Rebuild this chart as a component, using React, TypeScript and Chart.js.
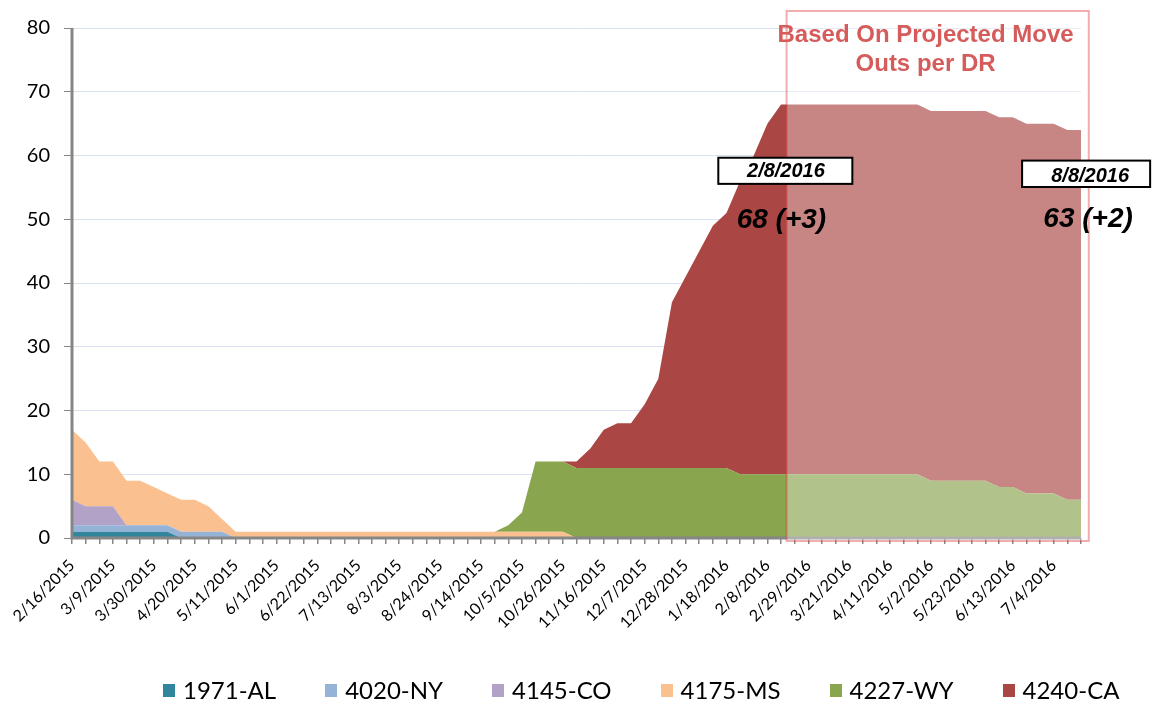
import React, { useEffect, useRef } from "react";
import { Chart, registerables } from "chart.js";

Chart.register(...registerables);

const dates = [
  "2/16/2015", "2/23/2015", "3/2/2015", "3/9/2015", "3/16/2015", "3/23/2015", "3/30/2015", "4/6/2015",
  "4/13/2015", "4/20/2015", "4/27/2015", "5/4/2015", "5/11/2015", "5/18/2015", "5/25/2015", "6/1/2015",
  "6/8/2015", "6/15/2015", "6/22/2015", "6/29/2015", "7/6/2015", "7/13/2015", "7/20/2015", "7/27/2015",
  "8/3/2015", "8/10/2015", "8/17/2015", "8/24/2015", "8/31/2015", "9/7/2015", "9/14/2015", "9/21/2015",
  "9/28/2015", "10/5/2015", "10/12/2015", "10/19/2015", "10/26/2015", "11/2/2015", "11/9/2015", "11/16/2015",
  "11/23/2015", "11/30/2015", "12/7/2015", "12/14/2015", "12/21/2015", "12/28/2015", "1/4/2016", "1/11/2016",
  "1/18/2016", "1/25/2016", "2/1/2016", "2/8/2016", "2/15/2016", "2/22/2016", "2/29/2016", "3/7/2016",
  "3/14/2016", "3/21/2016", "3/28/2016", "4/4/2016", "4/11/2016", "4/18/2016", "4/25/2016", "5/2/2016",
  "5/9/2016", "5/16/2016", "5/23/2016", "5/30/2016", "6/6/2016", "6/13/2016", "6/20/2016", "6/27/2016",
  "7/4/2016", "7/11/2016", "7/18/2016",
];

const al1971 = [
  1, 1, 1, 1, 1, 1, 1, 1, 0, 0, 0, 0, 0, 0, 0,
  0, 0, 0, 0, 0, 0, 0, 0, 0, 0, 0, 0, 0, 0, 0,
  0, 0, 0, 0, 0, 0, 0, 0, 0, 0, 0, 0, 0, 0, 0,
  0, 0, 0, 0, 0, 0, 0, 0, 0, 0, 0, 0, 0, 0, 0,
  0, 0, 0, 0, 0, 0, 0, 0, 0, 0, 0, 0, 0, 0, 0,
];
const ny4020 = [
  1, 1, 1, 1, 1, 1, 1, 1, 1, 1, 1, 1, 0, 0, 0,
  0, 0, 0, 0, 0, 0, 0, 0, 0, 0, 0, 0, 0, 0, 0,
  0, 0, 0, 0, 0, 0, 0, 0, 0, 0, 0, 0, 0, 0, 0,
  0, 0, 0, 0, 0, 0, 0, 0, 0, 0, 0, 0, 0, 0, 0,
  0, 0, 0, 0, 0, 0, 0, 0, 0, 0, 0, 0, 0, 0, 0,
];
const co4145 = [
  4, 3, 3, 3, 0, 0, 0, 0, 0, 0, 0, 0, 0, 0, 0,
  0, 0, 0, 0, 0, 0, 0, 0, 0, 0, 0, 0, 0, 0, 0,
  0, 0, 0, 0, 0, 0, 0, 0, 0, 0, 0, 0, 0, 0, 0,
  0, 0, 0, 0, 0, 0, 0, 0, 0, 0, 0, 0, 0, 0, 0,
  0, 0, 0, 0, 0, 0, 0, 0, 0, 0, 0, 0, 0, 0, 0,
];
const ms4175 = [
  11, 10, 7, 7, 7, 7, 6, 5, 5, 5, 4, 2, 1, 1, 1,
  1, 1, 1, 1, 1, 1, 1, 1, 1, 1, 1, 1, 1, 1, 1,
  1, 1, 1, 1, 1, 1, 1, 0, 0, 0, 0, 0, 0, 0, 0,
  0, 0, 0, 0, 0, 0, 0, 0, 0, 0, 0, 0, 0, 0, 0,
  0, 0, 0, 0, 0, 0, 0, 0, 0, 0, 0, 0, 0, 0, 0,
];
const wy4227 = [
  0, 0, 0, 0, 0, 0, 0, 0, 0, 0, 0, 0, 0, 0, 0,
  0, 0, 0, 0, 0, 0, 0, 0, 0, 0, 0, 0, 0, 0, 0,
  0, 0, 1, 3, 11, 11, 11, 11, 11, 11, 11, 11, 11, 11, 11,
  11, 11, 11, 11, 10, 10, 10, 10, 10, 10, 10, 10, 10, 10, 10,
  10, 10, 10, 9, 9, 9, 9, 9, 8, 8, 7, 7, 7, 6, 6,
];
const ca4240 = [
  0, 0, 0, 0, 0, 0, 0, 0, 0, 0, 0, 0, 0, 0, 0,
  0, 0, 0, 0, 0, 0, 0, 0, 0, 0, 0, 0, 0, 0, 0,
  0, 0, 0, 0, 0, 0, 0, 1, 3, 6, 7, 7, 10, 14, 26,
  30, 34, 38, 40, 46, 50, 55, 58, 58, 58, 58, 58, 58, 58, 58,
  58, 58, 58, 58, 58, 58, 58, 58, 58, 58, 58, 58, 58, 58, 58,
];

const seriesNames = ["1971-AL", "4020-NY", "4145-CO", "4175-MS", "4227-WY", "4240-CA"];
const seriesValues = [al1971, ny4020, co4145, ms4175, wy4227, ca4240];
const seriesColors = ["#31859C", "#95B3D7", "#B3A2C7", "#FAC090", "#89A54E", "#AA4643"];

const yTicks = [0, 10, 20, 30, 40, 50, 60, 70, 80];

const projectionTitle = ["Based On Projected Move", "Outs per DR"];
const calloutDates = ["2/8/2016", "8/8/2016"];
const calloutValues = ["68 (+3)", "63 (+2)"];

const TICK_FONT = 'Lato, "Open Sans", sans-serif';
const ANNO_FONT = '"Liberation Sans", Arial, sans-serif';

const overlayPlugin = {
  id: "overlay",
  afterDatasetsDraw(chart: any) {
    const { ctx, chartArea, scales } = chart;
    const xs = scales.x;
    const ys = scales.y;
    const px = (v: number) => xs.getPixelForValue(v);
    const py = (v: number) => ys.getPixelForValue(v);
    ctx.save();

    // axis lines
    ctx.strokeStyle = "#868686";
    ctx.lineWidth = 3;
    ctx.beginPath();
    ctx.moveTo(chartArea.left, chartArea.top);
    ctx.lineTo(chartArea.left, chartArea.bottom + 1.5);
    ctx.moveTo(chartArea.left - 1.5, chartArea.bottom);
    ctx.lineTo(chartArea.right, chartArea.bottom);
    ctx.stroke();

    // projection box
    const bx0 = px(52.41), bx1 = px(74.57), by0 = py(82.67), by1 = py(-0.47);
    ctx.fillStyle = "rgba(255,255,255,0.34)";
    ctx.fillRect(bx0, by0, bx1 - bx0, by1 - by0);
    ctx.strokeStyle = "rgba(220,50,50,0.4)";
    ctx.lineWidth = 2;
    ctx.strokeRect(bx0, by0, bx1 - bx0, by1 - by0);

    ctx.fillStyle = "#D65B5B";
    ctx.font = `bold 24px ${ANNO_FONT}`;
    ctx.textAlign = "center";
    ctx.textBaseline = "alphabetic";
    ctx.fillText(projectionTitle[0], px(62.6), py(77.85));
    ctx.fillText(projectionTitle[1], px(62.6), py(73.3));

    // callouts
    const boxes = [
      { x0: 47.4, x1: 57.23, yt: 59.65, yb: 55.55, tx: 52.36, ty: 56.6, vx: 52.03, vy: 48.6 },
      { x0: 69.68, x1: 79.07, yt: 59.2, yb: 55.06, tx: 74.67, ty: 55.8, vx: 74.52, vy: 48.8 },
    ];
    boxes.forEach((b, i) => {
      const x0 = px(b.x0), x1 = px(b.x1), y0 = py(b.yt), y1 = py(b.yb);
      ctx.fillStyle = "#ffffff";
      ctx.fillRect(x0, y0, x1 - x0, y1 - y0);
      ctx.strokeStyle = "#000000";
      ctx.lineWidth = 2;
      ctx.strokeRect(x0, y0, x1 - x0, y1 - y0);
      ctx.fillStyle = "#000000";
      ctx.font = `italic bold 20px ${ANNO_FONT}`;
      ctx.fillText(calloutDates[i], px(b.tx), py(b.ty));
      ctx.font = `italic bold 28px ${ANNO_FONT}`;
      ctx.fillText(calloutValues[i], px(b.vx), py(b.vy));
    });
    ctx.restore();
  },
};

export default function App() {
  const ref = useRef<HTMLCanvasElement>(null);

  useEffect(() => {
    const chart = new Chart(ref.current as HTMLCanvasElement, {
      type: "line",
      data: {
        labels: dates,
        datasets: seriesValues.map((vals, i) => ({
          label: seriesNames[i],
          data: vals,
          backgroundColor: seriesColors[i],
          borderColor: "rgba(0,0,0,0)",
          borderWidth: 0,
          pointRadius: 0,
          tension: 0,
          fill: i === 0 ? "origin" : "-1",
        })),
      },
      options: {
        responsive: false,
        animation: false,
        layout: { padding: { top: 28, right: 71, left: 0, bottom: 0 } },
        plugins: { legend: { display: false }, tooltip: { enabled: false } },
        scales: {
          x: {
            offset: false,
            grid: {
              display: true,
              drawOnChartArea: false,
              drawTicks: true,
              tickLength: 6,
              tickColor: "#868686",
              lineWidth: 1.5,
              offset: false,
            },
            border: { display: false },
            ticks: {
              autoSkip: false,
              minRotation: 45,
              maxRotation: 45,
              padding: 12,
              color: "#000",
              font: { family: TICK_FONT, size: 16 },
              callback: (_v: any, idx: number) => (idx % 3 === 0 ? dates[idx] : ""),
            },
            afterFit: (scale: any) => {
              scale.height = 166;
            },
          },
          y: {
            stacked: true,
            min: 0,
            max: 80,
            afterBuildTicks: (scale: any) => {
              scale.ticks = yTicks.map((v) => ({ value: v }));
            },
            grid: {
              color: "#D9E1F2",
              lineWidth: 1,
              tickColor: "#868686",
              tickLength: 8,
            },
            border: { display: false },
            ticks: {
              padding: 14,
              color: "#000",
              font: { family: TICK_FONT, size: 20 },
            },
            afterFit: (scale: any) => {
              scale.width = 72;
            },
          },
        },
      },
      plugins: [overlayPlugin],
    });
    return () => chart.destroy();
  }, []);

  return (
    <div style={{ position: "fixed", left: 0, top: 0, width: 1152, height: 704, background: "#fff" }}>
      <canvas ref={ref} width={1152} height={704} style={{ position: "absolute", left: 0, top: 0 }} />
      <div
        style={{
          position: "absolute",
          left: 163,
          top: 676,
          display: "flex",
          alignItems: "center",
          gap: 49,
          fontFamily: TICK_FONT,
          fontSize: 24,
          color: "#000",
          lineHeight: "28px",
          whiteSpace: "nowrap",
        }}
      >
        {seriesNames.map((n, i) => (
          <div key={n} style={{ display: "flex", alignItems: "center" }}>
            <span style={{ display: "inline-block", width: 12, height: 13, background: seriesColors[i], marginRight: 8 }} />
            <span>{n}</span>
          </div>
        ))}
      </div>
    </div>
  );
}
